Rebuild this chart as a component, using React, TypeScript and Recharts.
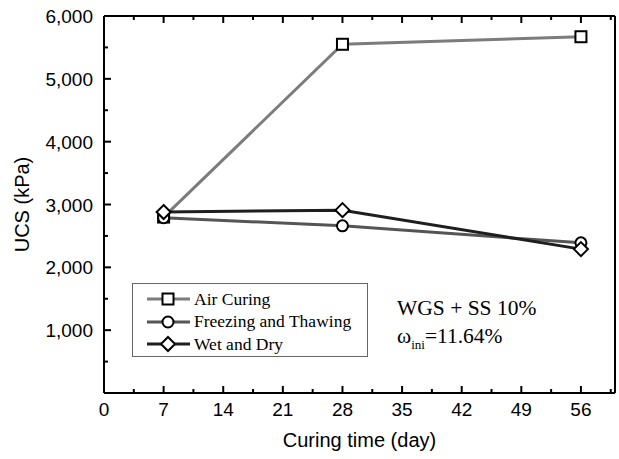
import { LineChart, Line, XAxis, YAxis, Legend } from 'recharts'

const days = [7, 28, 56]
const airCuring = [2800, 5550, 5670]
const freezeThaw = [2790, 2660, 2390]
const wetDry = [2880, 2910, 2290]

const seriesNames = ['Air Curing', 'Freezing and Thawing', 'Wet and Dry']
const xTicks = [0, 3.5, 7, 10.5, 14, 17.5, 21, 24.5, 28, 31.5, 35, 38.5, 42, 45.5, 49, 52.5, 56, 59.5]
const yTicks = [0, 500, 1000, 1500, 2000, 2500, 3000, 3500, 4000, 4500, 5000, 5500, 6000]

const data = days.map((d, i) => ({
  day: d,
  air: airCuring[i],
  ft: freezeThaw[i],
  wd: wetDry[i],
}))

const SANS = '"Liberation Sans", Arial, sans-serif'
const SERIF = '"Liberation Serif", "Times New Roman", serif'

const series = [
  { key: 'air', name: seriesNames[0], color: '#7c7c7c', marker: 'square' },
  { key: 'ft', name: seriesNames[1], color: '#555555', marker: 'circle' },
  { key: 'wd', name: seriesNames[2], color: '#1e1e1e', marker: 'diamond' },
]

function Marker({ cx, cy, type }: { cx: number; cy: number; type: string }) {
  if (cx == null || cy == null) return null
  const p = { fill: '#fff', stroke: '#000', strokeWidth: 2 }
  if (type === 'square') return <rect x={cx - 5.5} y={cy - 5.5} width={11} height={11} {...p} />
  if (type === 'circle') return <circle cx={cx} cy={cy} r={5.5} {...p} />
  return <path d={`M${cx},${cy - 7}L${cx + 7},${cy}L${cx},${cy + 7}L${cx - 7},${cy}Z`} {...p} />
}

const isMajorX = (v: number) => v % 7 === 0
const isMajorY = (v: number) => v % 1000 === 0

// tick marks point into the plot, like the original figure
function BottomTick({ x, y, payload }: any) {
  const major = isMajorX(payload.value)
  return (
    <g>
      <path d={`M${x},${y}V${y - (major ? 7 : 4)}`} stroke="#000" strokeWidth={2} fill="none" />
      {major && (
        <text x={x} y={y + 23} textAnchor="middle" fontFamily={SANS} fontSize={19} fill="#000">
          {payload.value}
        </text>
      )}
    </g>
  )
}

function TopTick({ x, y, payload }: any) {
  const major = isMajorX(payload.value)
  return <path d={`M${x},${y}V${y + (major ? 7 : 4)}`} stroke="#000" strokeWidth={2} fill="none" />
}

function LeftTick({ x, y, payload }: any) {
  const v = payload.value
  const major = isMajorY(v)
  return (
    <g>
      <path d={`M${x},${y}H${x + (major ? 7 : 4)}`} stroke="#000" strokeWidth={2} fill="none" />
      {major && v > 0 && (
        <text x={x - 11} y={y + 7} textAnchor="end" fontFamily={SANS} fontSize={19} fill="#000">
          {v.toLocaleString('en-US')}
        </text>
      )}
    </g>
  )
}

function RightTick({ x, y, payload }: any) {
  const major = isMajorY(payload.value)
  return <path d={`M${x},${y}H${x - (major ? 7 : 4)}`} stroke="#000" strokeWidth={2} fill="none" />
}

function YTitle({ viewBox }: any) {
  const cy = viewBox ? viewBox.y + viewBox.height / 2 : 204
  return (
    <text
      x={22}
      y={cy}
      transform={`rotate(-90, 22, ${cy})`}
      textAnchor="middle"
      dominantBaseline="central"
      fontFamily={SANS}
      fontSize={20}
      fill="#000"
    >
      UCS (kPa)
    </text>
  )
}

function XTitle({ viewBox }: any) {
  const cx = viewBox ? viewBox.x + viewBox.width / 2 : 360
  return (
    <text x={cx} y={447} textAnchor="middle" fontFamily={SANS} fontSize={20} fill="#000">
      Curing time (day)
    </text>
  )
}

function LegendBox() {
  return (
    <div
      style={{
        border: '1.5px solid #666',
        background: '#fff',
        width: 236,
        height: 74,
        boxSizing: 'border-box',
        paddingTop: 4,
        paddingLeft: 13,
      }}
    >
      {series.map((s) => (
        <div key={s.key} style={{ display: 'flex', alignItems: 'center', height: 22.5 }}>
          <svg width={46} height={18}>
            <line x1={1} y1={9} x2={44} y2={9} stroke={s.color} strokeWidth={3} />
            <Marker cx={22} cy={9} type={s.marker} />
          </svg>
          <span style={{ fontFamily: SERIF, fontSize: 17.5, color: '#000', marginLeft: 2 }}>{s.name}</span>
        </div>
      ))}
    </div>
  )
}

export default function App() {
  return (
    <div style={{ position: 'absolute', left: 0, top: 0, width: 619, height: 459, background: '#fff' }}>
      <LineChart width={619} height={459} data={data} margin={{ top: 15, right: 3, bottom: 0, left: 0 }}>
        <XAxis
          xAxisId="bottom"
          dataKey="day"
          type="number"
          domain={[0, 60]}
          ticks={xTicks}
          interval={0}
          height={66}
          tickSize={0}
          tickMargin={0}
          tickLine={false}
          axisLine={{ stroke: '#000', strokeWidth: 2 }}
          tick={<BottomTick />}
          label={<XTitle />}
        />
        <XAxis
          xAxisId="top"
          orientation="top"
          dataKey="day"
          type="number"
          domain={[0, 60]}
          ticks={xTicks}
          interval={0}
          height={1}
          tickSize={0}
          tickMargin={0}
          tickLine={false}
          axisLine={{ stroke: '#000', strokeWidth: 2 }}
          tick={<TopTick />}
        />
        <YAxis
          yAxisId="left"
          type="number"
          domain={[0, 6000]}
          ticks={yTicks}
          interval={0}
          width={104}
          tickSize={0}
          tickMargin={0}
          tickLine={false}
          axisLine={{ stroke: '#000', strokeWidth: 2 }}
          tick={<LeftTick />}
          label={<YTitle />}
        />
        <YAxis
          yAxisId="right"
          orientation="right"
          type="number"
          domain={[0, 6000]}
          ticks={yTicks}
          interval={0}
          width={1}
          tickSize={0}
          tickMargin={0}
          tickLine={false}
          axisLine={{ stroke: '#000', strokeWidth: 2 }}
          tick={<RightTick />}
        />
        <Legend
          layout="vertical"
          align="center"
          verticalAlign="middle"
          wrapperStyle={{ left: 132, top: 283, width: 238, height: 76 }}
          content={() => <LegendBox />}
        />
        {series.map((s) => (
          <Line
            key={s.key}
            xAxisId="bottom"
            yAxisId="left"
            dataKey={s.key}
            name={s.name}
            type="linear"
            stroke={s.color}
            strokeWidth={3}
            isAnimationActive={false}
            dot={(p: any) => <Marker key={`${s.key}-${p.index}`} cx={p.cx} cy={p.cy} type={s.marker} />}
            activeDot={false}
          />
        ))}
      </LineChart>
      <svg
        width={619}
        height={459}
        style={{ position: 'absolute', left: 0, top: 0, pointerEvents: 'none' }}
      >
        <text x={397} y={315} fontFamily={SERIF} fontSize={21.5} fill="#000">
          WGS + SS 10%
        </text>
        <text x={397} y={343} fontFamily={SERIF} fontSize={21.5} fill="#000">
          ω
          <tspan fontSize={13} dy={6}>ini</tspan>
          <tspan dy={-6}>=11.64%</tspan>
        </text>
      </svg>
    </div>
  )
}
